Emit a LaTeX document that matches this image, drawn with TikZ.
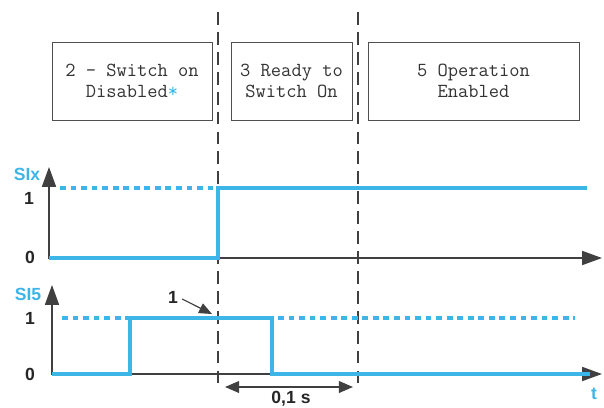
\documentclass[tikz,border=0pt]{standalone}
\usepackage{fontspec}
\setmainfont{Liberation Sans}
\usetikzlibrary{arrows.meta,positioning}
\definecolor{sigblue}{HTML}{3DB5E6}
\definecolor{axisgray}{HTML}{404040}
\definecolor{boxgray}{HTML}{505050}

\begin{document}
\begin{tikzpicture}[x=0.03cm, y=-0.03cm,
    >={Triangle[length=17pt, width=12pt]},
    state/.style={draw=boxgray, line width=0.8pt, minimum height=2.34cm, inner sep=0pt,
      align=center, text=black!80, font=\ttfamily\fontsize{17}{18}\selectfont},
    axis/.style={draw=axisgray, line width=1.3pt},
    sig/.style={draw=sigblue, line width=2.6pt},
    sigdash/.style={sig, dash pattern=on 5pt off 4pt},
    sep/.style={draw=axisgray, line width=1.1pt, dash pattern=on 11pt off 6pt},
    lbl/.style={font=\bfseries\fontsize{15}{18}\selectfont, text=black!85, inner sep=0pt}]
\useasboundingbox (0,0) rectangle (604,407);

% states
\node[state, minimum width=4.8cm] (s2) at (132,81) {2 - Switch on\\Disabled\textcolor{sigblue}{*}};
\node[state, minimum width=3.63cm] (s3) at (291.5,81) {3 Ready to\\Switch On};
\node[state, minimum width=6.33cm] (s5) at (473.5,81) {5 Operation\\Enabled};

% separators
\coordinate (ta) at (218,12);
\coordinate (tb) at (218,390);
\coordinate (ua) at (358,12);
\coordinate (ub) at (358,390);
\draw[sep] (ta) -- (tb);
\draw[sep] (ua) -- (ub);

% SIx
\coordinate (sixo) at (49,258);
\coordinate (sixtop) at (49,167);
\coordinate (sixend) at (602,258);
\draw[sigdash] (60,188) -- (218,188);
\draw[axis, <->] (sixtop) -- (sixo) -- (sixend);
\draw[sig] (sixo) -- (218,258) -- (218,188) -- (587,188);
\node[lbl, text=sigblue] (n1) at (27,174) {SIx};
\node[lbl] (h1) at (29,198) {1};
\node[lbl] (z1) at (30,257) {0};

% SI5
\coordinate (fiveo) at (52,374);
\coordinate (fivetop) at (52,285);
\coordinate (fiveend) at (602,374);
\draw[sigdash] (62,318) -- (130,318);
\draw[sigdash] (278,318) -- (575,318);
\draw[axis, <->] (fivetop) -- (fiveo) -- (fiveend);
\draw[sig] (fiveo) -- (130,374) -- (130,318) -- (272,318) -- (272,374) -- (590,374);
\node[lbl, text=sigblue] (n2) at (28,294) {SI5};
\node[lbl] (h2) at (30,318) {1};
\node[lbl] (z2) at (30,374) {0};
\node[lbl, text=sigblue] (t) at (594,394) {t};

% note 1
\node[lbl] (note) at (173,297) {1};
\coordinate (hit) at (212,314);
\draw[axis, line width=1pt, -{Triangle[length=11pt, width=9pt]}] (note.east) ++(4,2) -- (hit);

% 0,1 s
\coordinate (da) at (225,387);
\coordinate (db) at (353,387);
\draw[axis, {Triangle[length=12pt, width=10pt]}-{Triangle[length=12pt, width=10pt]}] (da) -- (db);
\node[lbl] (dt) at (291,399) {0,1 s};
\end{tikzpicture}
\end{document}
